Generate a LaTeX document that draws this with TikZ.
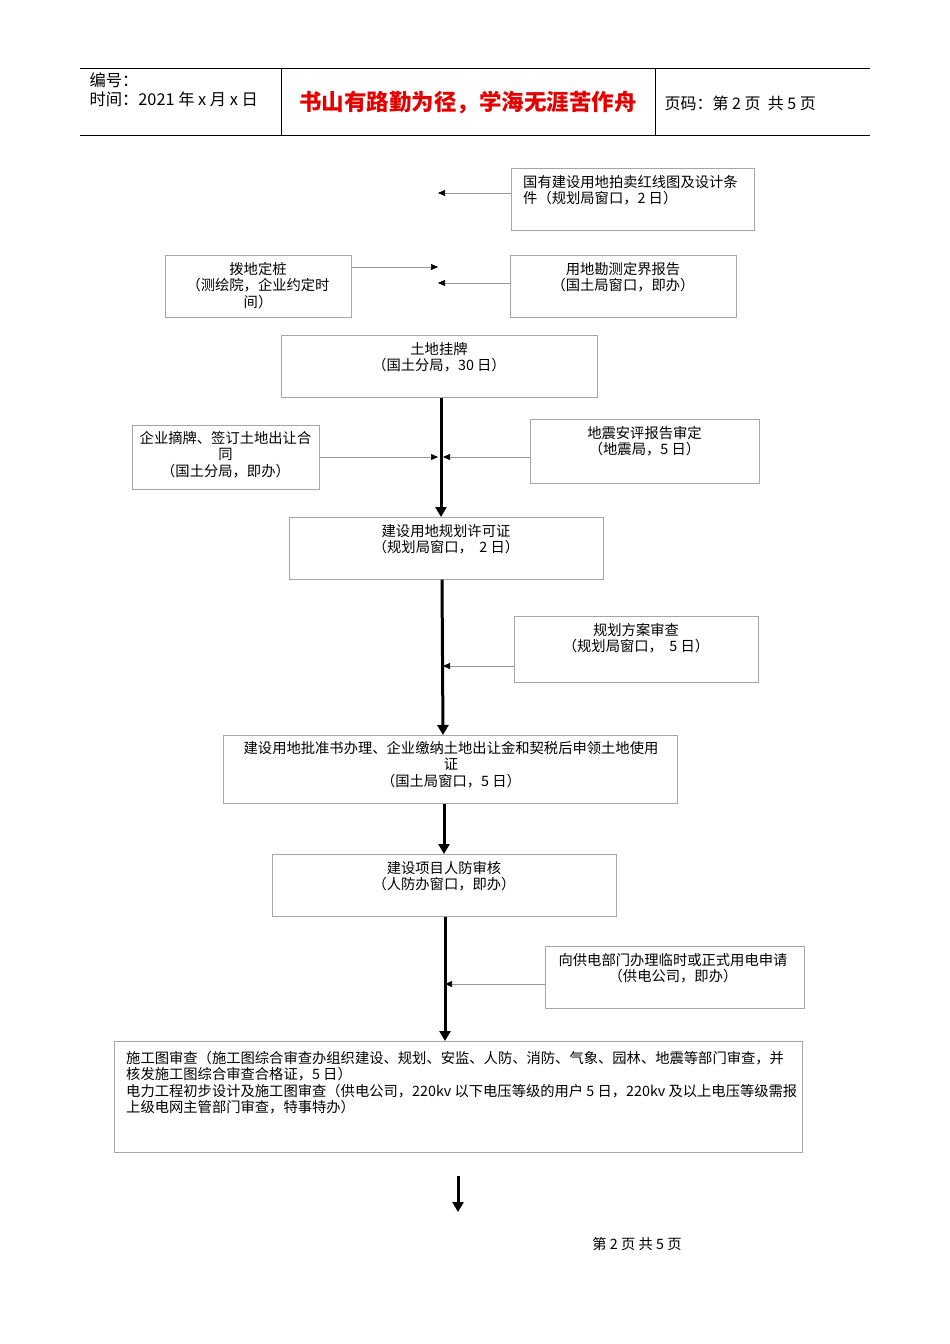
\documentclass[tikz,border=0pt]{standalone}
\usepackage{fontspec}
\setmainfont{Liberation Serif}
\newfontfamily\cjk{Noto Sans CJK SC}
\XeTeXlinebreaklocale "zh"
\XeTeXlinebreakskip=0pt plus 1pt
\usetikzlibrary{arrows.meta}
\begin{document}
\begin{tikzpicture}[x=1pt,y=-1pt,
  bx/.style={draw=gray!70,line width=0.6pt,inner sep=0pt,anchor=north west},
  tx/.style={inner sep=0pt,anchor=north,font=\cjk\fontsize{14.3}{16.5}\selectfont,align=center},
  thin/.style={draw=gray!80,line width=0.6pt,-{Triangle[length=7pt,width=6pt,black]}},
  thick/.style={draw=black,line width=3pt,-{Triangle[length=10pt,width=11pt]}},
  hd/.style={font=\cjk\fontsize{16.3}{18}\selectfont,anchor=west}]
\useasboundingbox (0,0) rectangle (950,1344);
% header
\draw[line width=0.6pt] (80,68) -- (870,68);
\draw[line width=0.6pt] (80,135) -- (870,135);
\draw[line width=0.6pt] (281,68) -- (281,135);
\draw[line width=0.6pt] (655,68) -- (655,135);
\node[hd] (h1) at (86,80) {编号：};
\node[hd] (h2) at (86,99) {时间：2021 年 x 月 x 日};
\node[font=\cjk\bfseries\fontsize{22.5}{24}\selectfont,text=red!90!black] (h3) at (468,103) {书山有路勤为径，学海无涯苦作舟};
\node[hd,font=\cjk\fontsize{16}{18}\selectfont] (h4) at (661,103) {页码：第 2 页\ \ 共 5 页};
% boxes
\node[bx,minimum width=243,minimum height=62] (b1) at (511,168) {};
\node[tx,anchor=north west,align=left] (t1x) at (523,175) {国有建设用地拍卖红线图及设计条\\件（规划局窗口，2 日）};
\node[bx,minimum width=186,minimum height=62] (b2) at (165,255) {};
\node[tx] (t2x) at (258,262) {拨地定桩\\（测绘院，企业约定时\\间）};
\node[bx,minimum width=226,minimum height=62] (b3) at (510,255) {};
\node[tx] (t3x) at (623,262) {用地勘测定界报告\\（国土局窗口，即办）};
\node[bx,minimum width=316,minimum height=62] (b4) at (281,335) {};
\node[tx] (t4x) at (439,342) {土地挂牌\\（国土分局，30 日）};
\node[bx,minimum width=187,minimum height=64] (b5) at (132,425) {};
\node[tx] (t5x) at (225.5,431) {企业摘牌、签订土地出让合\\同\\（国土分局，即办）};
\node[bx,minimum width=229,minimum height=64] (b6) at (530,419) {};
\node[tx] (t6x) at (644.5,426) {地震安评报告审定\\（地震局，5 日）};
\node[bx,minimum width=314,minimum height=62] (b7) at (289,517) {};
\node[tx] (t7x) at (446,524) {建设用地规划许可证\\（规划局窗口，\ \ 2 日）};
\node[bx,minimum width=244,minimum height=66] (b8) at (514,616) {};
\node[tx] (t8x) at (636,623) {规划方案审查\\（规划局窗口，\ \ 5 日）};
\node[bx,minimum width=454,minimum height=68] (b9) at (223,735) {};
\node[tx] (t9x) at (451,741) {建设用地批准书办理、企业缴纳土地出让金和契税后申领土地使用\\证\\（国土局窗口，5 日）};
\node[bx,minimum width=344,minimum height=62] (b10) at (272,854) {};
\node[tx] (t10x) at (444,861) {建设项目人防审核\\（人防办窗口，即办）};
\node[bx,minimum width=259,minimum height=62] (b11) at (545,946) {};
\node[tx] (t11x) at (673,953) {向供电部门办理临时或正式用电申请\\（供电公司，即办）};
\node[bx,minimum width=688,minimum height=111] (b12) at (114,1041) {};
\node[tx,anchor=north west,align=left] (t12x) at (126,1051) {施工图审查（施工图综合审查办组织建设、规划、安监、人防、消防、气象、园林、地震等部门审查，并\\核发施工图综合审查合格证，5 日）\\电力工程初步设计及施工图审查（供电公司，220kv 以下电压等级的用户 5 日，220kv 及以上电压等级需报\\上级电网主管部门审查，特事特办）};
% coordinates
\coordinate (t1) at (438,193);
\coordinate (t2) at (438,267);
\coordinate (t3) at (438,283);
\coordinate (t5) at (438,457);
\coordinate (t6) at (443,457);
\coordinate (t8) at (443,666);
\coordinate (t11) at (445,984);
\coordinate (s13) at (458,1176);
\coordinate (e13) at (458,1212);
% connectors
\draw[thin] (b1.west|-t1) -- (t1);
\draw[thin] (b2.east|-t2) -- (t2);
\draw[thin] (b3.west|-t3) -- (t3);
\draw[thin] (b5.east|-t5) -- (t5);
\draw[thin] (b6.west|-t6) -- (t6);
\draw[thin] (b8.west|-t8) -- (t8);
\draw[thin] (b11.west|-t11) -- (t11);
\draw[thick] (b4.south-|441,0) -- (b7.north-|441,0);
\draw[thick] (b7.south-|442,0) -- (b9.north-|443,0);
\draw[thick] (b9.south-|444,0) -- (b10.north-|444,0);
\draw[thick] (b10.south-|445,0) -- (b12.north-|445,0);
\draw[thick] (s13) -- (e13);
\node[font=\cjk\fontsize{14.3}{16}\selectfont] (ft) at (637,1244) {第\ 2\ 页\ 共\ 5\ 页};
\end{tikzpicture}
\end{document}
